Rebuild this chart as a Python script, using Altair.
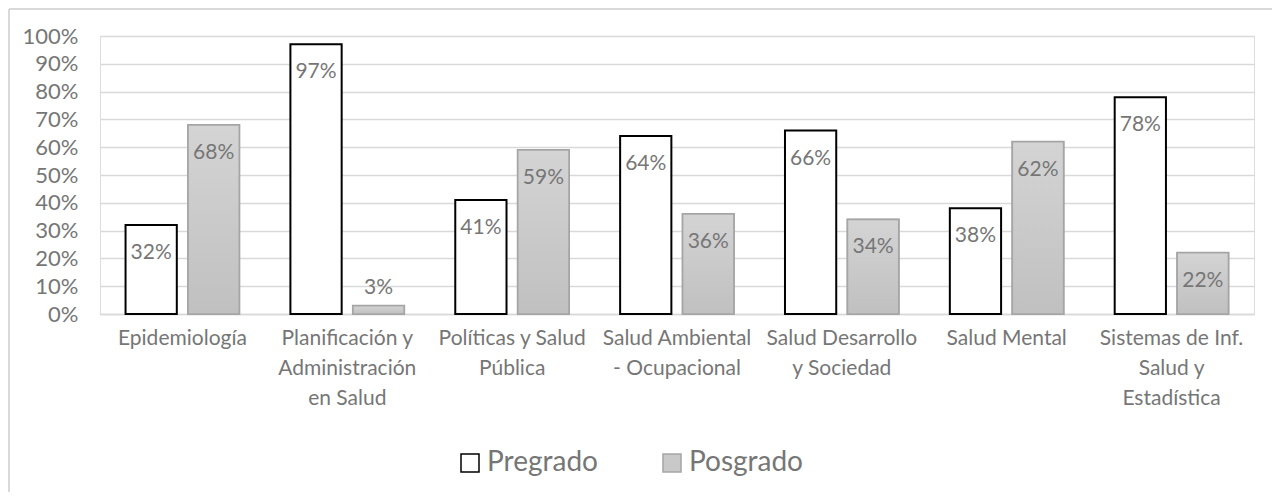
import altair as alt
import pandas as pd

categorias = [
    "Epidemiología",
    "Planificación y\nAdministración\nen Salud",
    "Políticas y Salud\nPública",
    "Salud Ambiental\n- Ocupacional",
    "Salud Desarrollo\ny Sociedad",
    "Salud Mental",
    "Sistemas de Inf.\nSalud y\nEstadística",
]
series = ["Pregrado", "Posgrado"]
pregrado = [32, 97, 41, 64, 66, 38, 78]
posgrado = [68, 3, 59, 36, 34, 62, 22]
y_ticks = [0, 10, 20, 30, 40, 50, 60, 70, 80, 90, 100]

rows = []
for c, a, b in zip(categorias, pregrado, posgrado):
    rows.append({"cat": c, "serie": "Pregrado", "v": a})
    rows.append({"cat": c, "serie": "Posgrado", "v": b})
df = pd.DataFrame(rows)

FONT = "Lato"
TXT = "#767676"
GRID = "#d9d9d9"

x_enc = alt.X("cat:N", sort=categorias,
              scale=alt.Scale(paddingInner=0.31, paddingOuter=0.155),
              axis=alt.Axis(title=None, labelAngle=0, labelExpr="split(datum.label, '\\n')",
                            labelFontSize=21, labelColor=TXT, labelFont=FONT,
                            labelLineHeight=30, labelPadding=13, ticks=False,
                            domainColor=GRID, domainWidth=1.5, grid=False,
                            labelBaseline="top"))
xo_enc = alt.XOffset("serie:N", sort=series, scale=alt.Scale(paddingInner=0.18, paddingOuter=0))
y_enc = alt.Y("v:Q", scale=alt.Scale(domain=[0, 100], nice=False),
              axis=alt.Axis(title=None, values=y_ticks, labelExpr="datum.value + '%'",
                            labelFontSize=22, labelColor=TXT, labelFont=FONT, labelPadding=22,
                            ticks=False, domain=False, grid=True, gridColor=GRID, gridWidth=1.5))

legend = alt.Legend(title=None, orient="none", legendX=356, legendY=413,
                    direction="horizontal", symbolType="square",
                    symbolSize=324, symbolStrokeWidth=1.5,
                    labelFontSize=28, labelColor=TXT, labelFont=FONT,
                    labelOffset=3, columnPadding=60)

base = alt.Chart(df)

bars = base.mark_bar(strokeWidth=2).encode(
    x=x_enc, xOffset=xo_enc, y=y_enc,
    fill=alt.Fill("serie:N", sort=series,
                  scale=alt.Scale(domain=series, range=["#ffffff", "#c9c9c9"]),
                  legend=legend),
    stroke=alt.Stroke("serie:N", sort=series,
                      scale=alt.Scale(domain=series, range=["#000000", "#a5a5a5"]),
                      legend=legend),
)

grad = alt.Gradient(gradient="linear",
                    stops=[alt.GradientStop(color="#d4d4d4", offset=0),
                           alt.GradientStop(color="#c0c0c0", offset=1)],
                    x1=0, x2=0, y1=0, y2=1)
pos_bars = base.transform_filter(alt.datum.serie == "Posgrado").mark_bar(
    fill=grad, stroke="#a5a5a5", strokeWidth=1.5
).encode(x=x_enc, xOffset=xo_enc, y=y_enc)

lab_in = base.transform_filter(alt.datum.v >= 10).transform_calculate(
    lab="datum.v + '%'").mark_text(
    baseline="middle", dy=28, fontSize=21, font=FONT, color=TXT
).encode(x=x_enc, xOffset=xo_enc, y=y_enc, text=alt.Text("lab:N"))
lab_out = base.transform_filter(alt.datum.v < 10).transform_calculate(
    lab="datum.v + '%'").mark_text(
    baseline="middle", dy=-18, fontSize=21, font=FONT, color=TXT
).encode(x=x_enc, xOffset=xo_enc, y=y_enc, text=alt.Text("lab:N"))

frame_top = base.mark_rule(color=GRID, strokeWidth=1.5).encode(
    x=alt.value(-91), x2=alt.value(1180), y=alt.value(-27))
frame_left = base.mark_rule(color=GRID, strokeWidth=1.5).encode(
    x=alt.value(-91), y=alt.value(-27), y2=alt.value(480))

chart = alt.layer(frame_top, frame_left, bars, pos_bars, lab_in, lab_out).properties(
    width=1154, height=278,
    autosize=alt.AutoSizeParams(type="none"),
    padding={"left": 92, "top": 28, "right": 18, "bottom": 178},
).configure_view(stroke=None).configure(background="white")

chart.save("out.html", embed_options={"renderer": "svg", "actions": False})
